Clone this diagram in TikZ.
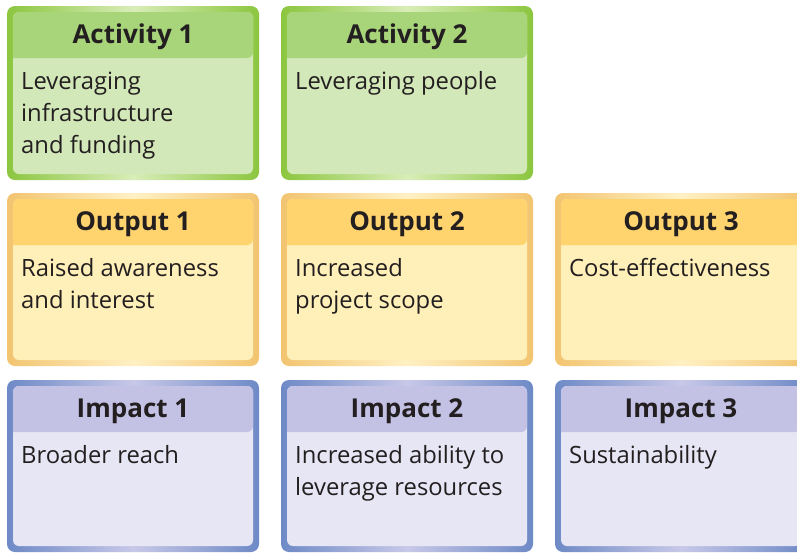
\documentclass[tikz,border=0pt]{standalone}
\usepackage{fontspec}
\setmainfont{Open Sans}
\definecolor{txt}{HTML}{231F20}
\definecolor{gBord}{HTML}{8CC63F}
\definecolor{gLite}{HTML}{D8EDB8}
\definecolor{gHead}{HTML}{A8D47A}
\definecolor{gBody}{HTML}{D3E8B8}
\definecolor{oBord}{HTML}{F2C470}
\definecolor{oLite}{HTML}{FFF1C4}
\definecolor{oHead}{HTML}{FFD46E}
\definecolor{oBody}{HTML}{FFEFB8}
\definecolor{bBord}{HTML}{6E8AC6}
\definecolor{bLite}{HTML}{C8C8E8}
\definecolor{bHead}{HTML}{C3C2E4}
\definecolor{bBody}{HTML}{E7E6F4}
\tikzset{
  titletext/.style={font=\fontsize{26}{28}\selectfont\bfseries, text=txt, inner sep=0pt, anchor=base},
  bodytext/.style={font=\fontsize{23.8}{32}\selectfont, text=txt, inner sep=0pt, anchor=north west, align=left},
}
\newcommand\fl{\rule{0pt}{20pt}}
% #1 x, #2 y (top, px), #3 height, #4 colour prefix, #5 name
\newcommand\mkpanel[5]{%
  \shade[left color=#4Bord, right color=#4Bord, middle color=#4Lite, rounded corners=8pt]
    (#1,-#2) rectangle ++(252,-#3);
  \fill[#4Body, rounded corners=6pt] (#1+6,-#2-6) rectangle ++(240,-#3+12);
  \fill[#4Head, rounded corners=6pt] (#1+6,-#2-6) -- ++(240,0) -- ++(0,-46) [sharp corners] -- ++(-240,0) [rounded corners=6pt] -- cycle;
  \coordinate (#5-t) at (#1+126,-#2-37.5);
  \coordinate (#5-b) at (#1+14,-#2-83+20);
}
\begin{document}
\begin{tikzpicture}[x=1pt,y=1pt]
\useasboundingbox (0,0) rectangle (797,-552);
\clip (0,0) rectangle (797,-552);
\fill[white] (0,0) rectangle (797,-552);
\mkpanel{7}{6}{174}{g}{a1}
\mkpanel{281}{6}{174}{g}{a2}
\mkpanel{7}{193}{173}{o}{o1}
\mkpanel{281}{193}{173}{o}{o2}
\mkpanel{555}{193}{173}{o}{o3}
\mkpanel{7}{380}{172}{b}{i1}
\mkpanel{281}{380}{172}{b}{i2}
\mkpanel{555}{380}{172}{b}{i3}
\node[titletext] (a1t) at (a1-t) {Activity 1};
\node[bodytext] (a1b) at (a1-b) {\fl Leveraging\\infrastructure\\and funding};
\node[titletext] (a2t) at (a2-t) {Activity 2};
\node[bodytext] (a2b) at (a2-b) {\fl Leveraging people};
\node[titletext] (o1t) at (o1-t) {Output 1};
\node[bodytext] (o1b) at (o1-b) {\fl Raised awareness\\and interest};
\node[titletext] (o2t) at (o2-t) {Output 2};
\node[bodytext] (o2b) at (o2-b) {\fl Increased\\project scope};
\node[titletext] (o3t) at (o3-t) {Output 3};
\node[bodytext] (o3b) at (o3-b) {\fl Cost-effectiveness};
\node[titletext] (i1t) at (i1-t) {Impact 1};
\node[bodytext] (i1b) at (i1-b) {\fl Broader reach};
\node[titletext] (i2t) at (i2-t) {Impact 2};
\node[bodytext] (i2b) at (i2-b) {\fl Increased ability to\\leverage resources};
\node[titletext] (i3t) at (i3-t) {Impact 3};
\node[bodytext] (i3b) at (i3-b) {\fl Sustainability};
\end{tikzpicture}
\end{document}
